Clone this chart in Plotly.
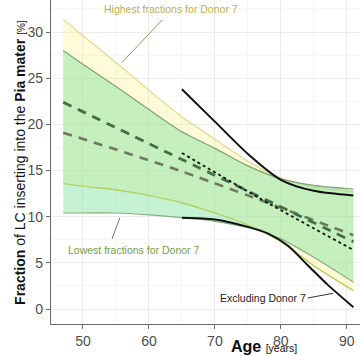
import plotly.graph_objects as go

# ---- data ----
band_age = [47, 50, 55, 60, 65, 70, 75, 80, 85, 91]
lowest_upper = [28.0, 26.5, 24.1, 21.6, 19.2, 17.4, 15.5, 14.1, 13.4, 13.0]
lowest_lower = [10.4, 10.4, 10.4, 10.2, 9.9, 9.5, 8.8, 7.6, 5.6, 2.9]
highest_upper = [31.4, 29.6, 26.7, 23.7, 20.8, 18.4, 16.0, 14.2, 13.2, 12.7]
highest_lower = [13.6, 13.3, 12.9, 12.3, 11.5, 10.4, 9.1, 7.3, 4.7, 2.0]

fit_age = [47, 65, 91]
fit_dark = [22.4, 16.2, 7.3]
fit_gray = [19.1, 14.9, 8.0]

excl_age_up = [65, 70, 75, 80, 85, 91]
excl_upper = [23.8, 20.3, 16.8, 14.0, 12.8, 12.3]
excl_age_lo = [65, 70, 75, 78, 81, 84, 87, 91]
excl_lower = [9.9, 9.7, 8.9, 8.2, 6.9, 4.8, 2.7, 0.2]
excl_fit_age = [65, 78, 91]
excl_fit = [16.9, 11.5, 6.4]

x_ticks = [50, 60, 70, 80, 90]
y_ticks = [0, 5, 10, 15, 20, 25, 30]

fig = go.Figure()

def line(x, y, color, width, dash="solid", fill=None, fillcolor=None):
    fig.add_trace(go.Scatter(
        x=x, y=y, mode="lines", line=dict(color=color, width=width, dash=dash, shape="spline", smoothing=0.8),
        fill=fill, fillcolor=fillcolor, hoverinfo="skip", showlegend=False))

# yellow band (highest fractions for Donor 7)
line(band_age, highest_lower, "#c4d468", 1.2)
line(band_age, highest_upper, "#e2d890", 1.2, fill="tonexty", fillcolor="rgba(255,238,110,0.28)")
# green band (lowest fractions for Donor 7)
line(band_age, lowest_lower, "#86b07e", 1.2)
line(band_age, lowest_upper, "#7fa276", 1.2, fill="tonexty", fillcolor="rgba(128,226,160,0.45)")
# re-draw yellow-band lower outline on top
line(band_age, highest_lower, "#b8d060", 1.2)

# dashed fits
line(fit_age, fit_gray, "#6f7862", 2.6, dash="9px,7px")
line(fit_age, fit_dark, "#3f6e45", 2.8, dash="9px,7px")

# excluding donor 7
line(excl_fit_age, excl_fit, "#111111", 1.8, dash="dot")
line(excl_age_up, excl_upper, "#111111", 2.0)
line(excl_age_lo, excl_lower, "#111111", 2.0)

# annotations
fig.add_annotation(x=63.3, y=32.5, text="Highest fractions for Donor 7", showarrow=False,
                   font=dict(family="Liberation Sans, Arial", size=10.5, color="#bdb349"))
fig.add_shape(type="line", x0=62.0, y0=31.3, x1=55.9, y1=26.7, line=dict(color="#9a9660", width=1))
fig.add_annotation(x=57.7, y=6.4, text="Lowest fractions for Donor 7", showarrow=False,
                   font=dict(family="Liberation Sans, Arial", size=10.5, color="#77a045"))
fig.add_shape(type="line", x0=55.6, y0=9.9, x1=54.4, y1=7.6, line=dict(color="#6f7f66", width=1))
fig.add_annotation(x=77.3, y=1.2, text="Excluding Donor 7", showarrow=False,
                   font=dict(family="Liberation Sans, Arial", size=10.5, color="#222222"))
fig.add_shape(type="line", x0=84.1, y0=1.2, x1=87.9, y1=1.7, line=dict(color="#333333", width=1))

# axis titles
fig.add_annotation(xref="paper", yref="paper", x=-0.133, y=0.5, textangle=-90,
                   text="<b>Fraction</b> of LC inserting into the <b>Pia mater</b> <span style='font-size:10px'>[%]</span>",
                   showarrow=False, font=dict(family="Liberation Sans, Arial", size=14, color="#111111"))
fig.add_annotation(xref="paper", yref="paper", x=0.578, y=-0.0988, xanchor="left", yanchor="bottom",
                   borderpad=0,
                   text="<b>Age</b> <span style='font-size:10.5px'>[years]</span>",
                   showarrow=False, font=dict(family="Liberation Sans, Arial", size=16, color="#111111"))

axis_common = dict(showline=True, linecolor="#6b6b6b", linewidth=1.3, ticks="outside", ticklen=4,
                   tickcolor="#6b6b6b", gridcolor="#ebebeb", gridwidth=1, zeroline=False,
                   tickfont=dict(family="Liberation Sans, Arial", size=14, color="#4d4d4d"),
                   minor=dict(showgrid=True, gridcolor="#f6f6f6", gridwidth=1))
fig.update_xaxes(range=[45.15, 92.0], tickvals=x_ticks, **axis_common)
fig.update_yaxes(range=[-1.62, 33.47], tickvals=y_ticks, **axis_common)
fig.update_xaxes(minor=dict(tickvals=[45, 55, 65, 75, 85]))
fig.update_yaxes(minor=dict(tickvals=[2.5, 7.5, 12.5, 17.5, 22.5, 27.5, 32.5]))

fig.update_layout(width=360, height=356, margin=dict(l=51, r=0, t=0, b=32, autoexpand=False),
                  paper_bgcolor="white", plot_bgcolor="white", showlegend=False)

fig.write_html("out.html", config={"displayModeBar": False},
               post_script="document.body.style.margin='0';document.body.style.overflow='hidden';")
